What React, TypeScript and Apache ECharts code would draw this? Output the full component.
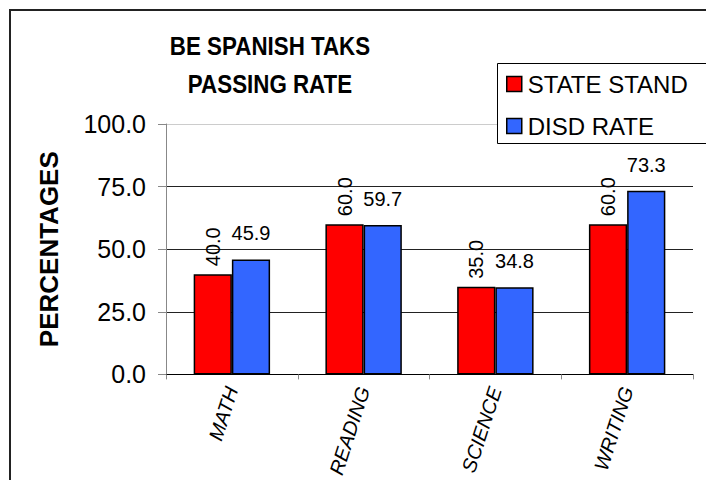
import React, { useEffect, useRef } from "react";
import * as echarts from "echarts";

const categories = ["MATH", "READING", "SCIENCE", "WRITING"];
const stateStandard = [40.0, 60.0, 35.0, 60.0];
const disdRate = [45.9, 59.7, 34.8, 73.3];
const seriesNames = ["STATE STAND", "DISD RATE"];
const titleLines = ["BE SPANISH TAKS", "PASSING RATE"];
const yAxisName = "PERCENTAGES";

export default function App() {
  const ref = useRef<HTMLDivElement>(null);
  useEffect(() => {
    if (!ref.current) return;
    const chart = echarts.init(ref.current, null, { renderer: "svg" });
    const font = "Liberation Sans, Arial, Helvetica, sans-serif";
    chart.setOption({
      animation: false,
      backgroundColor: "#ffffff",
      textStyle: { fontFamily: font },
      graphic: [
        {
          type: "rect",
          shape: { x: 10, y: 10, width: 1000, height: 1000 },
          style: { fill: "none", stroke: "#222", lineWidth: 2 },
          silent: true,
        },
        {
          type: "text",
          x: 270,
          y: 64.5,
          scaleX: 0.86,
          style: {
            text: titleLines.join("\n"),
            fontFamily: font,
            fontWeight: "bold",
            fontSize: 26,
            lineHeight: 38,
            fill: "#000",
            align: "center",
            verticalAlign: "middle",
          },
        },
        {
          type: "rect",
          z: 5,
          shape: { x: 497, y: 63, width: 500, height: 80 },
          style: { fill: "#fff", stroke: "none" },
          silent: true,
        },
        {
          type: "polyline",
          z: 100,
          shape: { points: [[1000, 63.5], [497.5, 63.5], [497.5, 143.5], [1000, 143.5]] },
          style: { fill: "none", stroke: "#000", lineWidth: 1 },
          silent: true,
        },
      ],
      legend: {
        orient: "vertical",
        left: 497,
        top: 63,
        z: 11,
        padding: [9, 5, 9, 9],
        itemGap: 18,
        itemWidth: 15,
        itemHeight: 15,
        borderWidth: 0,
        borderColor: "rgba(0,0,0,0)",
        backgroundColor: "rgba(0,0,0,0)",
        icon: "rect",
        itemStyle: { borderColor: "#000", borderWidth: 1.5 },
        textStyle: { fontSize: 24, color: "#000", fontFamily: font, padding: [0, 0, 0, 1] },
        data: seriesNames,
      },
      grid: { left: 166, right: 13, top: 124, bottom: 104, containLabel: false },
      xAxis: {
        type: "category",
        data: categories,
        axisLine: { lineStyle: { color: "#000", width: 1 } },
        axisTick: { show: true, length: 5, lineStyle: { color: "#888" } },
        axisLabel: {
          rotate: 72,
          margin: 13,
          fontSize: 20,
          fontStyle: "italic",
          color: "#000",
          fontFamily: font,
        },
      },
      yAxis: {
        type: "value",
        min: 0,
        max: 100,
        interval: 25,
        name: yAxisName,
        nameLocation: "middle",
        nameGap: 104,
        nameTextStyle: { fontSize: 26, fontWeight: "bold", color: "#000", fontFamily: font },
        axisLine: { show: true, lineStyle: { color: "#888", width: 1 } },
        axisTick: { show: true, length: 8, lineStyle: { color: "#888" } },
        axisLabel: {
          fontSize: 25,
          color: "#000",
          margin: 20,
          formatter: (v: number) => v.toFixed(1),
        },
        splitLine: {
          show: true,
          lineStyle: { color: ["#000", "#222", "#222", "#222", "#ccc"], width: 1 },
        },
      },
      series: [
        {
          name: seriesNames[0],
          type: "bar",
          data: stateStandard,
          barGap: "0%",
          barCategoryGap: "42%",
          itemStyle: { color: "#ff0000", borderColor: "#000", borderWidth: 1.5 },
          label: {
            show: true,
            position: "top",
            rotate: 90,
            align: "left",
            verticalAlign: "middle",
            distance: 8,
            fontSize: 20,
            color: "#000",
            formatter: (p: any) => Number(p.value).toFixed(1),
          },
        },
        {
          name: seriesNames[1],
          type: "bar",
          data: disdRate,
          barGap: "0%",
          barCategoryGap: "42%",
          itemStyle: { color: "#3366ff", borderColor: "#000", borderWidth: 1.5 },
          label: {
            show: true,
            position: "top",
            distance: 16,
            fontSize: 20,
            color: "#000",
            formatter: (p: any) => Number(p.value).toFixed(1),
          },
        },
      ],
    });
    return () => chart.dispose();
  }, []);
  return (
    <div
      ref={ref}
      style={{ position: "fixed", left: 0, top: 0, width: 706, height: 480, background: "#fff" }}
    />
  );
}
